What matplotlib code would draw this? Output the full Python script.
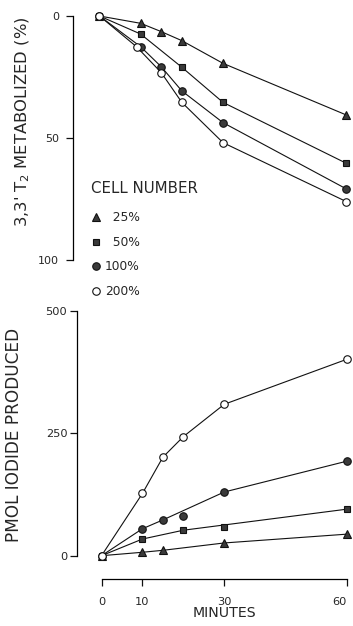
import matplotlib
matplotlib.use("Agg")
import matplotlib.pyplot as plt

# -------------------------------------------------------------------
# Data
# -------------------------------------------------------------------
cell_labels = ["25%", "50%", "100%", "200%"]

# top panel: 3,3' T2 metabolized (%)
top_t25 = [0, 10, 15, 20, 30, 60]
top_v25 = [0, 3.0, 6.4, 10.1, 19.4, 40.6]
top_t50 = [0, 10, 20, 30, 60]
top_v50 = [0, 7.4, 21.0, 35.4, 60.4]
top_t100 = [0, 10, 15, 20, 30, 60]
top_v100 = [0, 12.6, 20.8, 30.7, 43.7, 70.9]
top_t200 = [0, 9, 15, 20, 30, 60]
top_v200 = [0, 12.6, 23.2, 35.4, 51.9, 76.1]

# bottom panel: pmol iodide produced (points)
bot_t25 = [0, 10, 15, 30, 60]
bot_v25 = [0, 7, 11, 26, 44]
bot_t50 = [0, 10, 20, 30, 60]
bot_v50 = [0, 34, 52, 59, 95]
bot_t100 = [0, 10, 15, 20, 30, 60]
bot_v100 = [0, 55, 73, 81, 130, 193]
bot_t200 = [0, 10, 15, 20, 30, 60]
bot_v200 = [0, 127, 201, 243, 309, 401]

# bottom panel: drawn curves (skip the off-curve points)
curve_t25 = [0, 10, 15, 30, 60]
curve_v25 = [0, 7, 11, 26, 44]
curve_t50 = [0, 10, 20, 60]
curve_v50 = [0, 34, 52, 95]
curve_t100 = [0, 10, 15, 30, 60]
curve_v100 = [0, 55, 73, 130, 193]
curve_t200 = [0, 10, 15, 20, 30, 60]
curve_v200 = [0, 127, 201, 243, 309, 401]

top_yticks = [0, 50, 100]
bot_yticks = [0, 250, 500]
xticks = [0, 10, 30, 60]

# -------------------------------------------------------------------
# Styles
# -------------------------------------------------------------------
W, H = 353, 626
plt.rcParams["font.family"] = ["DejaVu Sans"]
INK = "#111111"
TXT = "#262626"
FILL = "#3a3a3a"
styles = [
    dict(marker="^", markersize=5.8, markerfacecolor=FILL, markeredgecolor=INK),
    dict(marker="s", markersize=4.8, markerfacecolor=FILL, markeredgecolor=INK),
    dict(marker="o", markersize=5.4, markerfacecolor=FILL, markeredgecolor=INK),
    dict(marker="o", markersize=5.4, markerfacecolor="white", markeredgecolor=INK),
]

fig = plt.figure(figsize=(W / 100, H / 100), dpi=100)


def px_axes(left, right, top, bottom):
    return fig.add_axes([left / W, 1 - bottom / H, (right - left) / W, (bottom - top) / H])


def draw_series(ax, pts, curves, with_label):
    for (t, v), (ct, cv), st, lab in zip(pts, curves, styles, cell_labels):
        ax.plot(ct, cv, color=INK, lw=0.8, clip_on=False, zorder=2)
        ax.plot(t, v, ls="none", clip_on=False, zorder=3, markeredgewidth=0.8,
                label=lab.rjust(4, "\u2007") if with_label else None, **st)


# ---------------- top panel ----------------
ax1 = px_axes(99.5, 346.5, 16, 260)
top_pts = [(top_t25, top_v25), (top_t50, top_v50), (top_t100, top_v100), (top_t200, top_v200)]
draw_series(ax1, top_pts, top_pts, True)
ax1.set_xlim(0, 60)
ax1.set_ylim(100, 0)
for s in ["top", "right", "bottom"]:
    ax1.spines[s].set_visible(False)
ax1.spines["left"].set_position(("outward", 19))
ax1.spines["left"].set_linewidth(0.9)
ax1.set_xticks([])
ax1.set_yticks(top_yticks)
ax1.tick_params(axis="y", length=5, width=0.9, pad=5, labelsize=8, colors=INK,
                labelcolor=TXT)
fig.text(23 / W, 1 - 122 / H, "3,3' T$_2$ METABOLIZED (%)", rotation=90,
         ha="center", va="center", fontsize=11.8, color=TXT)

leg = ax1.legend(loc="upper left", bbox_to_anchor=(91 / W, 1 - 181 / H),
                 bbox_transform=fig.transFigure, frameon=False, title="CELL NUMBER",
                 title_fontsize=10.8, fontsize=8.8, alignment="left", borderpad=0,
                 borderaxespad=0, handlelength=0.8, handletextpad=0.35,
                 labelspacing=0.95, labelcolor=TXT)
leg.get_title().set_color(TXT)
leg._legend_box.sep = 11

# ---------------- bottom panel ----------------
ax2 = px_axes(101.5, 347, 310.7, 555.7)
bot_pts = [(bot_t25, bot_v25), (bot_t50, bot_v50), (bot_t100, bot_v100), (bot_t200, bot_v200)]
bot_curves = [(curve_t25, curve_v25), (curve_t50, curve_v50),
              (curve_t100, curve_v100), (curve_t200, curve_v200)]
draw_series(ax2, bot_pts, bot_curves, False)
ax2.set_xlim(0, 60)
ax2.set_ylim(0, 500)
for s in ["top", "right"]:
    ax2.spines[s].set_visible(False)
ax2.spines["left"].set_position(("outward", 17.6))
ax2.spines["bottom"].set_position(("outward", 16.8))
ax2.spines["left"].set_linewidth(0.9)
ax2.spines["bottom"].set_linewidth(0.9)
ax2.spines["bottom"].set_bounds(0, 60)
ax2.set_xticks(xticks)
ax2.set_yticks(bot_yticks)
ax2.tick_params(axis="y", length=5, width=0.9, pad=2, labelsize=8.2, colors=INK,
                labelcolor=TXT)
ax2.tick_params(axis="x", length=5, width=0.9, pad=8, labelsize=8.2, colors=INK,
                labelcolor=TXT)
ax2.get_xticklabels()[-1].set_ha("right")
ax2.set_xlabel("MINUTES", fontsize=10.2, color=TXT, labelpad=-1)
fig.text(14 / W, 1 - 435 / H, "PMOL IODIDE PRODUCED", rotation=90,
         ha="center", va="center", fontsize=12.2, color=TXT)

fig.savefig("out.png", dpi=100)
